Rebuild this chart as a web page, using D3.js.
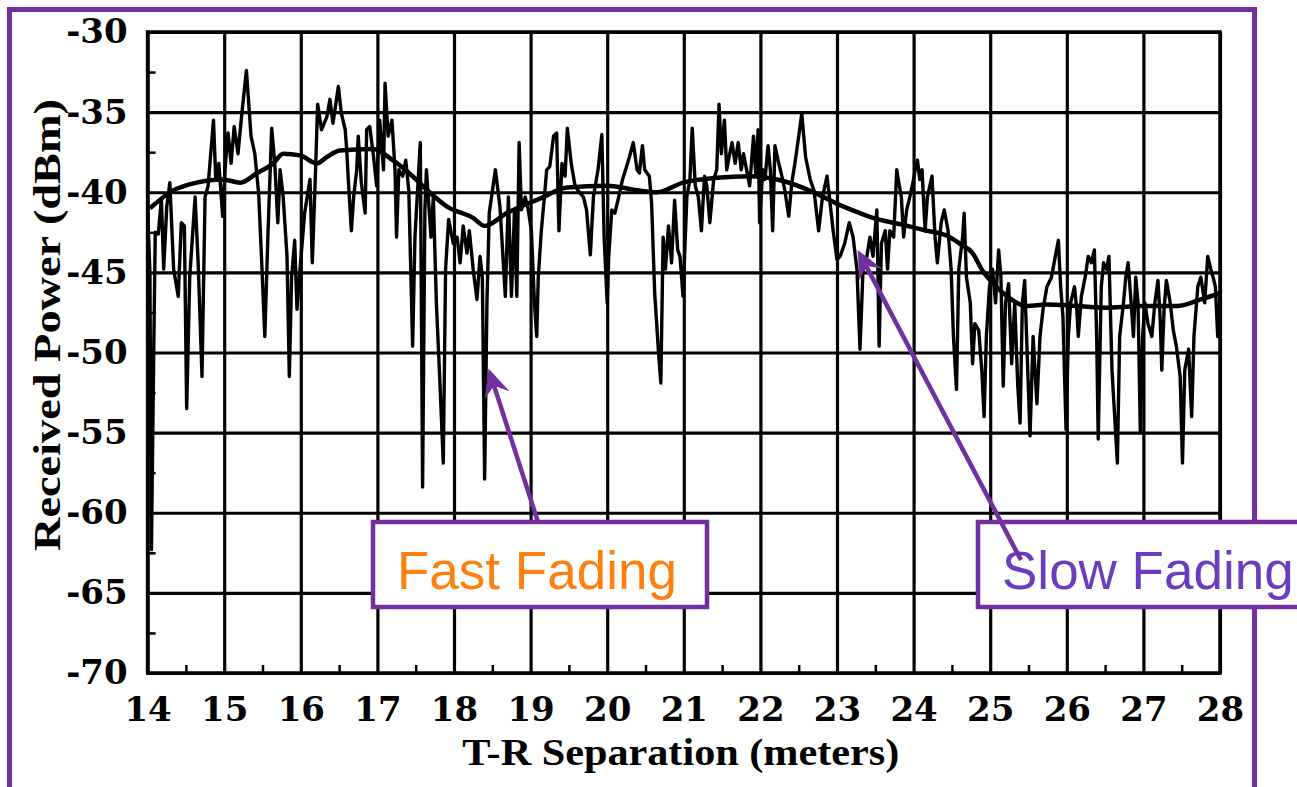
<!DOCTYPE html>
<html><head><meta charset="utf-8">
<script src="https://cdn.jsdelivr.net/npm/d3@7"></script>
<style>body{margin:0;background:#fff}svg{display:block}</style>
</head><body><svg id="c" width="1297" height="787"></svg>
<script>
// ---------------- data ----------------
const xTicks = [14,15,16,17,18,19,20,21,22,23,24,25,26,27,28];
const yTicks = [-30,-35,-40,-45,-50,-55,-60,-65,-70];
const xMinor = [14.5,15.5,16.5,17.5,18.5,19.5,20.5,21.5,22.5,23.5,24.5,25.5,26.5,27.5];
const yMinor = [-32.5,-37.5,-42.5,-47.5,-52.5,-57.5,-62.5,-67.5];
const xTitle = "T-R Separation (meters)";
const yTitle = "Received Power (dBm)";
const labels = ["Fast Fading", "Slow Fading"];

// slow fading (local mean), [distance m, dBm]
const slowDistance = [14.03,14.33,14.64,14.98,15.21,15.43,15.64,15.77,15.99,16.21,16.34,16.51,16.94,17.2,17.46,17.68,17.91,18.25,18.4,18.69,19.12,19.48,20.0,20.43,20.65,20.99,21.43,21.86,22.3,22.74,23.04,23.3,23.47,23.83,24.17,24.43,24.6,24.77,24.9,25.04,25.22,25.48,25.74,26.13,26.56,26.99,27.44,27.74,28.0];
const slowPower = [-41.0,-39.9,-39.4,-39.2,-39.4,-38.8,-38.2,-37.6,-37.7,-38.2,-37.8,-37.4,-37.3,-38.0,-39.0,-40.0,-40.9,-41.6,-42.1,-41.3,-40.4,-39.7,-39.6,-39.9,-40.0,-39.4,-39.1,-39.0,-39.3,-40.1,-40.8,-41.3,-41.6,-42.0,-42.4,-42.7,-43.2,-43.8,-44.9,-45.7,-46.5,-47.1,-47.0,-47.1,-47.2,-47.1,-47.1,-46.7,-46.3];

// fast fading (raw measurement), [distance m, dBm]
const fast14to16 = [[14.00,-41.0],[14.03,-45.0],[14.05,-62.3],[14.08,-50.0],[14.10,-42.5],[14.14,-42.6],[14.18,-40.4],[14.21,-44.8],[14.25,-40.9],[14.29,-39.4],[14.34,-44.8],[14.40,-46.5],[14.44,-41.9],[14.48,-42.1],[14.51,-53.5],[14.55,-45.3],[14.62,-40.3],[14.66,-44.4],[14.71,-51.5],[14.75,-40.3],[14.79,-39.6],[14.86,-35.5],[14.89,-39.2],[14.93,-38.2],[14.98,-41.5],[15.01,-38.6],[15.05,-36.3],[15.09,-38.2],[15.13,-35.9],[15.18,-37.6],[15.23,-35.1],[15.29,-32.4],[15.35,-36.5],[15.40,-37.6],[15.45,-40.1],[15.49,-44.4],[15.53,-49.0],[15.57,-42.8],[15.62,-36.0],[15.66,-38.2],[15.70,-41.9],[15.73,-38.6],[15.77,-40.3],[15.82,-44.0],[15.85,-51.5],[15.88,-45.3],[15.92,-43.0],[15.95,-47.3],[15.99,-44.8],[16.05,-41.3],[16.12,-39.2],[16.15,-44.4],[16.19,-39.0],[16.22,-34.5],[16.27,-36.1],[16.34,-35.3]];
const fast16to19 = [[16.38,-34.2],[16.42,-35.7],[16.49,-33.4],[16.53,-35.1],[16.58,-36.1],[16.60,-37.4],[16.62,-39.2],[16.66,-42.4],[16.69,-40.3],[16.73,-38.6],[16.75,-36.5],[16.79,-39.4],[16.84,-41.3],[16.86,-36.1],[16.90,-35.9],[16.95,-37.8],[16.99,-39.6],[17.03,-35.5],[17.08,-38.6],[17.10,-33.2],[17.14,-36.5],[17.19,-35.5],[17.23,-38.6],[17.25,-42.8],[17.28,-38.6],[17.33,-39.0],[17.37,-38.0],[17.41,-39.9],[17.46,-49.6],[17.49,-42.8],[17.56,-36.9],[17.59,-58.4],[17.62,-41.1],[17.64,-38.6],[17.70,-42.8],[17.73,-40.3],[17.77,-46.9],[17.82,-52.3],[17.86,-56.9],[17.89,-44.8],[17.93,-41.7],[17.99,-43.2],[18.04,-42.8],[18.08,-44.4],[18.12,-42.1],[18.17,-43.8],[18.20,-42.4],[18.25,-44.8],[18.30,-46.7],[18.34,-44.0],[18.37,-45.3],[18.40,-57.9],[18.43,-46.9],[18.46,-41.3],[18.49,-40.3],[18.54,-38.6],[18.60,-40.9],[18.67,-46.5],[18.71,-40.3]];
const fast19to21 = [[18.75,-46.5],[18.79,-41.1],[18.82,-46.5],[18.85,-36.9],[18.88,-41.1],[18.93,-40.3],[18.97,-41.1],[19.01,-42.4],[19.05,-46.9],[19.08,-49.0],[19.10,-45.3],[19.14,-42.4],[19.18,-40.3],[19.21,-38.6],[19.25,-38.4],[19.30,-36.5],[19.34,-36.3],[19.37,-42.4],[19.41,-38.2],[19.45,-39.0],[19.48,-36.0],[19.53,-38.2],[19.58,-39.6],[19.62,-39.9],[19.69,-40.3],[19.73,-41.1],[19.78,-43.9],[19.82,-40.3],[19.88,-38.6],[19.93,-36.4],[19.96,-42.8],[20.00,-46.9],[20.02,-44.0],[20.06,-41.1],[20.10,-41.3],[20.15,-40.3],[20.20,-39.2],[20.24,-38.6],[20.29,-37.8],[20.34,-36.9],[20.39,-38.6],[20.42,-38.8],[20.46,-37.1],[20.49,-38.6],[20.55,-39.0],[20.58,-40.7],[20.62,-46.3],[20.67,-50.0],[20.70,-51.9],[20.73,-42.8],[20.76,-44.8],[20.80,-42.1],[20.84,-44.4],[20.88,-40.5],[20.92,-43.6],[20.95,-44.0],[20.99,-46.5],[21.04,-40.3],[21.08,-39.2]];
const fast21to23 = [[21.11,-36.0],[21.15,-39.6],[21.19,-40.3],[21.23,-42.4],[21.27,-39.0],[21.30,-39.6],[21.34,-41.9],[21.39,-39.2],[21.43,-38.6],[21.46,-34.5],[21.49,-37.6],[21.53,-35.5],[21.56,-38.6],[21.60,-37.6],[21.63,-36.9],[21.67,-38.2],[21.71,-36.9],[21.75,-38.6],[21.78,-37.6],[21.82,-38.6],[21.86,-39.6],[21.91,-36.5],[21.94,-39.0],[21.97,-36.1],[21.99,-41.9],[22.03,-38.6],[22.06,-39.2],[22.10,-37.1],[22.13,-38.6],[22.16,-42.4],[22.19,-37.1],[22.23,-38.0],[22.28,-39.0],[22.32,-39.9],[22.37,-41.5],[22.41,-39.4],[22.45,-38.2],[22.50,-36.5],[22.54,-35.1],[22.59,-37.8],[22.65,-39.2],[22.70,-39.9],[22.76,-42.4],[22.81,-40.3],[22.87,-39.0],[22.91,-40.7],[22.95,-42.4],[23.00,-44.2],[23.04,-44.0],[23.10,-43.2],[23.16,-41.9],[23.21,-42.8],[23.26,-44.8],[23.30,-49.8],[23.34,-44.8],[23.39,-44.0]];
const fast23to26 = [[23.43,-42.8],[23.47,-44.0],[23.52,-41.1],[23.55,-49.6],[23.58,-43.2],[23.63,-42.4],[23.66,-44.8],[23.69,-42.4],[23.74,-42.8],[23.78,-38.6],[23.80,-39.2],[23.84,-40.3],[23.87,-42.8],[23.91,-41.1],[23.95,-40.3],[24.00,-39.2],[24.02,-38.6],[24.05,-38.0],[24.08,-39.2],[24.11,-38.6],[24.15,-42.4],[24.18,-40.3],[24.24,-39.0],[24.28,-42.8],[24.31,-44.4],[24.36,-41.9],[24.40,-41.1],[24.45,-42.4],[24.49,-44.8],[24.52,-49.0],[24.56,-52.3],[24.59,-44.8],[24.64,-42.8],[24.66,-41.3],[24.69,-45.3],[24.74,-46.9],[24.77,-50.7],[24.80,-48.2],[24.85,-48.6],[24.89,-51.1],[24.92,-54.0],[24.95,-49.0],[24.99,-45.9],[25.03,-44.8],[25.07,-46.9],[25.11,-43.6],[25.14,-45.3],[25.17,-52.1],[25.20,-46.9],[25.24,-45.7],[25.28,-50.7],[25.32,-46.9],[25.36,-52.1],[25.39,-54.4],[25.42,-46.9],[25.45,-45.5],[25.49,-51.1],[25.52,-55.2],[25.56,-49.0],[25.61,-53.2],[25.65,-49.0],[25.69,-47.3],[25.74,-45.9]];
const fast26to28 = [[25.80,-45.3],[25.85,-44.0],[25.89,-43.0],[25.92,-45.9],[25.95,-47.8],[25.99,-54.8],[26.02,-49.0],[26.05,-46.9],[26.10,-45.9],[26.13,-47.3],[26.15,-49.0],[26.19,-46.5],[26.24,-45.3],[26.28,-44.0],[26.32,-44.4],[26.36,-43.6],[26.39,-49.0],[26.41,-55.4],[26.45,-45.9],[26.48,-44.4],[26.52,-44.8],[26.55,-44.0],[26.59,-51.1],[26.63,-54.4],[26.66,-56.9],[26.69,-49.0],[26.74,-46.9],[26.77,-45.3],[26.80,-44.4],[26.84,-46.9],[26.87,-49.0],[26.90,-45.3],[26.93,-46.9],[26.96,-55.0],[26.99,-49.0],[27.02,-46.9],[27.06,-48.2],[27.11,-49.0],[27.15,-46.9],[27.19,-45.5],[27.22,-48.0],[27.24,-51.1],[27.27,-47.3],[27.30,-45.5],[27.35,-46.9],[27.39,-48.6],[27.43,-49.6],[27.48,-51.5],[27.51,-56.9],[27.54,-51.1],[27.59,-49.8],[27.63,-54.0],[27.66,-49.0],[27.71,-45.9],[27.75,-45.3],[27.80,-46.9],[27.84,-44.0],[27.88,-44.8],[27.91,-45.3],[27.94,-45.9],[27.97,-49.0],[28.00,-46.5]];
// points the annotation arrows aim at [distance, dBm]
const fastArrowTarget = [18.45, -51.0];
const slowArrowTarget = [23.27, -43.6];

// ---------------- drawing ----------------
const svg = d3.select("#c");
const PURPLE = "#7030A0";
const serif = "'DejaVu Serif', 'Liberation Serif', serif";
const tserif = "'Liberation Serif', 'Times New Roman', serif";
const sans = "'Liberation Sans', Arial, sans-serif";

const pL = 147.6, pR = 1220, pT = 32, pB = 673;
const x = d3.scaleLinear().domain([14, 28]).range([pL, pR]);
const y = d3.scaleLinear().domain([-70, -30]).range([pB, pT]);

// purple outer frame
svg.append("rect").attr("x", 9.5).attr("y", 9.5).attr("width", 1245).attr("height", 900)
  .attr("fill", "none").attr("stroke", PURPLE).attr("stroke-width", 5);

const g = svg.append("g");

// grid
const gx = g.append("g").attr("transform", `translate(0,${pB})`)
  .call(d3.axisBottom(x).tickValues(xTicks).tickSize(-(pB - pT)).tickFormat(""));
const gy = g.append("g").attr("transform", `translate(${pL},0)`)
  .call(d3.axisLeft(y).tickValues(yTicks).tickSize(-(pR - pL)).tickFormat(""));
[gx, gy].forEach(a => {
  a.select(".domain").remove();
  a.selectAll("line").attr("stroke", "#000").attr("stroke-width", 3.2);
});

// minor ticks (inward)
const mx = g.append("g").attr("transform", `translate(0,${pB})`)
  .call(d3.axisBottom(x).tickValues(xMinor).tickSize(-8).tickFormat(""));
const my = g.append("g").attr("transform", `translate(${pL},0)`)
  .call(d3.axisLeft(y).tickValues(yMinor).tickSize(-8).tickFormat(""));
[mx, my].forEach(a => {
  a.select(".domain").remove();
  a.selectAll("line").attr("stroke", "#000").attr("stroke-width", 2.5);
});

// tick labels
const lx = g.append("g").attr("transform", `translate(0,${pB})`)
  .call(d3.axisBottom(x).tickValues(xTicks).tickSize(0).tickPadding(24).tickFormat(d => String(d)));
const ly = g.append("g").attr("transform", `translate(${pL},0)`)
  .call(d3.axisLeft(y).tickValues(yTicks).tickSize(0).tickPadding(20).tickFormat(d => String(d)));
[lx, ly].forEach(a => {
  a.select(".domain").remove();
  a.selectAll("text").attr("fill", "#000").style("font-family", serif)
    .style("font-weight", "bold").style("font-size", "34px");
});

// data lines
const fastData = [].concat(fast14to16, fast16to19, fast19to21, fast21to23, fast23to26, fast26to28);
g.append("path").datum(fastData)
  .attr("d", d3.line().x(d => x(d[0])).y(d => y(d[1])))
  .attr("fill", "none").attr("stroke", "#000").attr("stroke-width", 3.4)
  .attr("stroke-linejoin", "round");
const slowData = slowDistance.map((d, i) => [d, slowPower[i]]);
g.append("path").datum(slowData)
  .attr("d", d3.line().x(d => x(d[0])).y(d => y(d[1])).curve(d3.curveMonotoneX))
  .attr("fill", "none").attr("stroke", "#000").attr("stroke-width", 4.5)
  .attr("stroke-linejoin", "round");

// plot border
g.append("rect").attr("x", pL).attr("y", pT).attr("width", pR - pL).attr("height", pB - pT)
  .attr("fill", "none").attr("stroke", "#000").attr("stroke-width", 3.5);

// axis titles
svg.append("text").text(xTitle)
  .attr("x", (pL + pR) / 2 - 3).attr("y", 765).attr("text-anchor", "middle")
  .attr("textLength", 437).attr("lengthAdjust", "spacingAndGlyphs")
  .style("font-family", tserif).style("font-weight", "bold").style("font-size", "38px");
svg.append("text").text(yTitle)
  .attr("transform", "translate(60,325) rotate(-90)").attr("text-anchor", "middle")
  .attr("textLength", 452).attr("lengthAdjust", "spacingAndGlyphs")
  .style("font-family", tserif).style("font-weight", "bold").style("font-size", "38px");

// annotation boxes
function box(x0, y0, w, h, label, color) {
  svg.append("rect").attr("x", x0).attr("y", y0).attr("width", w).attr("height", h)
    .attr("fill", "#fff").attr("stroke", PURPLE).attr("stroke-width", 4.5);
  svg.append("text").text(label).attr("x", x0 + 24).attr("y", y0 + 67)
    .attr("fill", color).style("font-family", sans).style("font-size", "53px");
}
box(373, 522, 334, 85, labels[0], "#FF7F10");
box(978, 522, 360, 85, labels[1], "#6B3CBE");

function arrow(x1, y1, x2, y2) {
  const dx = x2 - x1, dy = y2 - y1, L = Math.hypot(dx, dy);
  const ux = dx / L, uy = dy / L, px = -uy, py = ux;
  const hl = 28, hw = 13, notch = 10;
  svg.append("line").attr("x1", x1).attr("y1", y1)
    .attr("x2", x2 - ux * (hl - notch)).attr("y2", y2 - uy * (hl - notch))
    .attr("stroke", PURPLE).attr("stroke-width", 4.5);
  const pts = [
    [x2, y2],
    [x2 - ux * hl + px * hw, y2 - uy * hl + py * hw],
    [x2 - ux * (hl - notch), y2 - uy * (hl - notch)],
    [x2 - ux * hl - px * hw, y2 - uy * hl - py * hw]
  ];
  svg.append("path").attr("d", "M" + pts.map(p => p.join(",")).join("L") + "Z").attr("fill", PURPLE);
}
arrow(538, 522, x(fastArrowTarget[0]), y(fastArrowTarget[1]));
arrow(1021, 560, x(slowArrowTarget[0]), y(slowArrowTarget[1]));
</script></body></html>
